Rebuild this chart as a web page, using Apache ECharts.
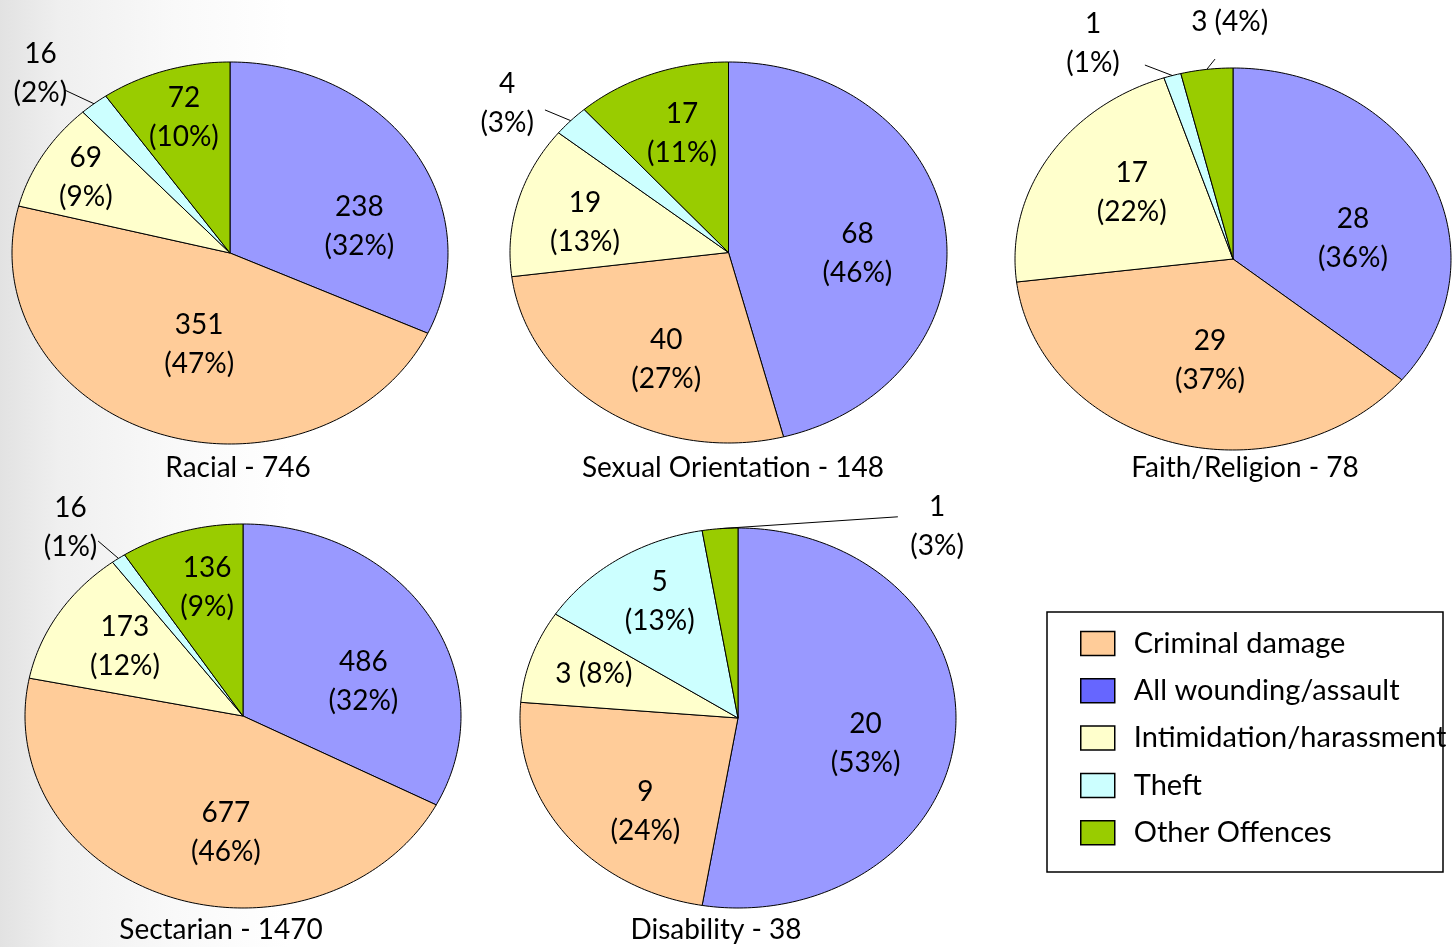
<!DOCTYPE html>
<html>
<head>
<meta charset="utf-8">
<script src="https://cdn.jsdelivr.net/npm/echarts@6/dist/echarts.min.js"></script>
<style>
  html, body { margin: 0; padding: 0; background: #fff; }
  #chart { width: 1452px; height: 947px; }
</style>
</head>
<body>
<div id="chart"></div>
<script>
// slice order, clockwise from 12 o'clock
const categories = ['All wounding/assault', 'Criminal damage', 'Intimidation/harassment', 'Theft', 'Other Offences']
const legendOrder = ['Criminal damage', 'All wounding/assault', 'Intimidation/harassment', 'Theft', 'Other Offences']
const chartTitles = ['Racial - 746', 'Sexual Orientation - 148', 'Faith/Religion - 78', 'Sectarian - 1470', 'Disability - 38']

// counts, in category order
const racial = [238, 351, 69, 16, 72]
const sexualOrientation = [68, 40, 19, 4, 17]
const faithReligion = [28, 29, 17, 1, 3]
const sectarian = [486, 677, 173, 16, 136]
const disability = [20, 9, 3, 5, 1]

// percentages as printed on the slices
const racialPct = [32, 47, 9, 2, 10]
const sexualOrientationPct = [46, 27, 13, 3, 11]
const faithReligionPct = [36, 37, 22, 1, 4]
const sectarianPct = [32, 46, 12, 1, 9]
const disabilityPct = [53, 24, 8, 13, 3]

const values = [racial, sexualOrientation, faithReligion, sectarian, disability]
const pcts = [racialPct, sexualOrientationPct, faithReligionPct, sectarianPct, disabilityPct]

const sliceColors = ['#9999FF', '#FFCC99', '#FFFFCC', '#CCFFFF', '#99CC00']
const legendColors = { 'All wounding/assault': '#6666FF' }
const FONT = 'Lato, "Open Sans", "DejaVu Sans", sans-serif'

// ellipse geometry and label placement (angle in degrees, radius fraction)
const layouts = [
  { cx: 230, cy: 253, rx: 218, ry: 191, title: [238, 468],
    labels: [[76.7, 0.61], [196.4, 0.5], [300.8, 0.77], [317.2, 1.28], [343.4, 0.74]],
    leaders: [null, null, null, [318.4, 1.14], null], oneLine: [] },
  { cx: 728.5, cy: 252.5, rx: 218.5, ry: 190.5, title: [733, 468],
    labels: [[90.5, 0.59], [206.9, 0.63], [283.3, 0.675], [307.7, 1.28], [341.2, 0.66]],
    leaders: [null, null, null, [311.7, 1.125], null], oneLine: [] },
  { cx: 1233, cy: 259, rx: 218, ry: 191, title: [1245, 468],
    labels: [[79.2, 0.56], [191.3, 0.54], [306.8, 0.58], [330.4, 1.3], [359.3, 1.24]],
    leaders: [null, null, null, [338.3, 1.093], [355.5, 1.05]], oneLine: [4] },
  { cx: 243, cy: 716, rx: 218, ry: 192, title: [221, 930],
    labels: [[72.2, 0.58], [187.4, 0.61], [303.6, 0.65], [321.1, 1.26], [346.2, 0.69]],
    leaders: [null, null, null, [323.9, 1.128], null], oneLine: [] },
  { cx: 738, cy: 718, rx: 218, ry: 190, title: [716, 930],
    labels: [[102.7, 0.6], [220.8, 0.65], [289.2, 0.7], [329.6, 0.71], [42.2, 1.36]],
    leaders: [null, null, null, null, [34.7, 1.288]], oneLine: [2] }
]

const rad = d => d * Math.PI / 180

function renderSlice(params, api) {
  const cat = params.seriesIndex
  const ci = params.dataIndex
  const vals = values[ci]
  const total = vals.reduce((a, b) => a + b, 0)
  const v = api.value(0)
  let before = 0
  for (let k = 0; k < cat; k++) before += vals[k]
  const a0 = before / total * 2 * Math.PI
  const a1 = (before + v) / total * 2 * Math.PI
  const L = layouts[ci]
  const pt = (a, f) => [L.cx + f * L.rx * Math.sin(a), L.cy - f * L.ry * Math.cos(a)]

  const pts = [[L.cx, L.cy]]
  const steps = Math.max(2, Math.ceil((a1 - a0) / rad(1)))
  for (let s = 0; s <= steps; s++) pts.push(pt(a0 + (a1 - a0) * s / steps, 1))

  const children = [{
    type: 'polygon',
    shape: { points: pts },
    style: { fill: api.visual('color'), stroke: '#000', lineWidth: 1 }
  }]

  const lab = L.labels[cat]
  const lp = pt(rad(lab[0]), lab[1])
  const sep = L.oneLine.includes(cat) ? ' ' : '\n'
  children.push({
    type: 'text',
    z2: 100,
    style: {
      x: lp[0], y: lp[1],
      text: v + sep + '(' + pcts[ci][cat] + '%)',
      align: 'center', verticalAlign: 'middle',
      fontSize: 28, fontFamily: FONT, lineHeight: 39, fill: '#000'
    }
  })

  const ld = L.leaders[cat]
  if (ld) {
    const mid = (a0 + a1) / 2
    children.push({
      type: 'polyline',
      z2: 100,
      shape: { points: [pt(mid, 1), pt(rad(ld[0]), ld[1])] },
      style: { stroke: '#000', lineWidth: 1, fill: null }
    })
  }
  return { type: 'group', children }
}

const chart = echarts.init(document.getElementById('chart'))

const option = {
  animation: false,
  backgroundColor: {
    type: 'linear', x: 0, y: 0, x2: 1, y2: 0,
    colorStops: [
      { offset: 0, color: '#e2e2e2' },
      { offset: 0.04, color: '#efefef' },
      { offset: 0.12, color: '#f9f9f9' },
      { offset: 0.2, color: '#ffffff' },
      { offset: 1, color: '#ffffff' }
    ]
  },
  legend: {
    orient: 'vertical',
    left: 1075,
    top: 624,
    itemWidth: 34,
    itemHeight: 24,
    itemGap: 18.3,
    icon: 'rect',
    itemStyle: { borderColor: '#000', borderWidth: 1.5 },
    textStyle: { fontSize: 29, fontFamily: FONT, color: '#000', padding: [0, 0, 0, 14] },
    data: legendOrder.map(n => legendColors[n] ? { name: n, itemStyle: { color: legendColors[n] } } : n)
  },
  graphic: [
    {
      type: 'rect', z: -1,
      shape: { x: 1047, y: 612, width: 396, height: 260 },
      style: { fill: '#fff', stroke: '#000', lineWidth: 1.5 }
    },
    ...layouts.map((L, i) => ({
      type: 'text',
      x: L.title[0], y: L.title[1],
      style: {
        text: chartTitles[i], align: 'center', verticalAlign: 'middle',
        fontSize: 28, fontFamily: FONT, fill: '#000'
      }
    }))
  ],
  series: categories.map((name, k) => ({
    type: 'custom',
    name,
    coordinateSystem: 'none',
    itemStyle: { color: sliceColors[k] },
    renderItem: renderSlice,
    data: values.map(vals => [vals[k]])
  }))
}

chart.setOption(option)
window.addEventListener('resize', () => chart.resize())
</script>
</body>
</html>
